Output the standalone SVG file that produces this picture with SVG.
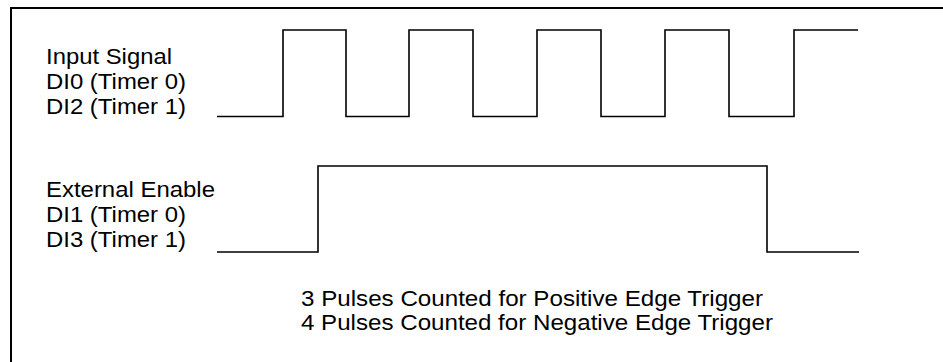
<svg xmlns="http://www.w3.org/2000/svg" width="943" height="362" viewBox="0 0 943 362">
<style>
.lbl{font-family:"Liberation Sans",Arial,sans-serif;font-size:22px;fill:#000}
.wave{fill:none;stroke:#000;stroke-width:1.6;stroke-linejoin:miter}
.frame{fill:none;stroke:#000;stroke-width:2}
</style>
<rect width="943" height="362" fill="#fff"/>
<path class="frame" d="M11,364 V8 H945"/>
<g id="input-signal-label">
<text class="lbl" x="46" y="64" textLength="126" lengthAdjust="spacingAndGlyphs">Input Signal</text>
<text class="lbl" x="46" y="89" textLength="140" lengthAdjust="spacingAndGlyphs">DI0 (Timer 0)</text>
<text class="lbl" x="46" y="114" textLength="140" lengthAdjust="spacingAndGlyphs">DI2 (Timer 1)</text>
</g>
<g id="external-enable-label">
<text class="lbl" x="46" y="197" textLength="169" lengthAdjust="spacingAndGlyphs">External Enable</text>
<text class="lbl" x="46" y="222" textLength="140" lengthAdjust="spacingAndGlyphs">DI1 (Timer 0)</text>
<text class="lbl" x="46" y="247" textLength="140" lengthAdjust="spacingAndGlyphs">DI3 (Timer 1)</text>
</g>
<g id="waveforms">
<path id="input-wave" class="wave" d="M217,116.5 H283 V30 H346 V116.5 H409 V30 H473 V116.5 H537 V30 H601 V116.5 H665 V30 H729 V116.5 H794 V30 H858"/>
<path id="enable-wave" class="wave" d="M217,252 H318 V166 H767 V252 H859"/>
</g>
<g id="note">
<text class="lbl" x="301" y="305.5" textLength="462" lengthAdjust="spacingAndGlyphs">3 Pulses Counted for Positive Edge Trigger</text>
<text class="lbl" x="301" y="330" textLength="472" lengthAdjust="spacingAndGlyphs">4 Pulses Counted for Negative Edge Trigger</text>
</g>
</svg>
